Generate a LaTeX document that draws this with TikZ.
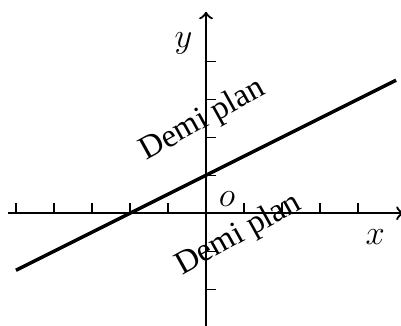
\documentclass[tikz,border=0pt]{standalone}
\usepackage{fontspec}
\newfontfamily\demifont{Liberation Serif}
\begin{document}
\begin{tikzpicture}[x=13.2pt,y=13.2pt,
  axis/.style={line width=0.8pt,->},
  tick/.style={line width=0.4pt},
  droite/.style={line width=1.2pt},
  lbl/.style={inner sep=0pt,font=\fontsize{11.5}{13}\selectfont},
  demi/.style={inner sep=0pt,anchor=base west,rotate=29,font=\demifont\fontsize{11.4}{13}\selectfont}]
\useasboundingbox (-5.42,-2.95) rectangle (5.13,5.61);
\coordinate (xl) at (-5.2,0);
\coordinate (xr) at (5.2,0);
\coordinate (yb) at (0,-3.1);
\coordinate (yt) at (0,5.3);
\draw[axis] (xl) -- (xr);
\draw[axis] (yb) -- (yt);
\foreach \i in {-5,-4,-3,-2,-1,1,2,3,4}
  \draw[tick] (\i,0) -- (\i,0.27);
\foreach \j in {-2,-1,1,2,3,4}
  \draw[tick] (0,\j) -- (0.27,\j);
\coordinate (a) at (-5,-1.5);
\coordinate (b) at (5,3.5);
\draw[droite] (a) -- (b);
\node[lbl] (ylab) at (-0.59,4.47) {$y$};
\node[lbl] (xlab) at (4.45,-0.63) {$x$};
\node[lbl] (olab) at (0.55,0.37) {$o$};
\node[demi] (d1) at (-1.58,1.38) {Demi plan};
\node[demi] (d2) at (-0.64,-1.64) {Demi plan};
\end{tikzpicture}
\end{document}
